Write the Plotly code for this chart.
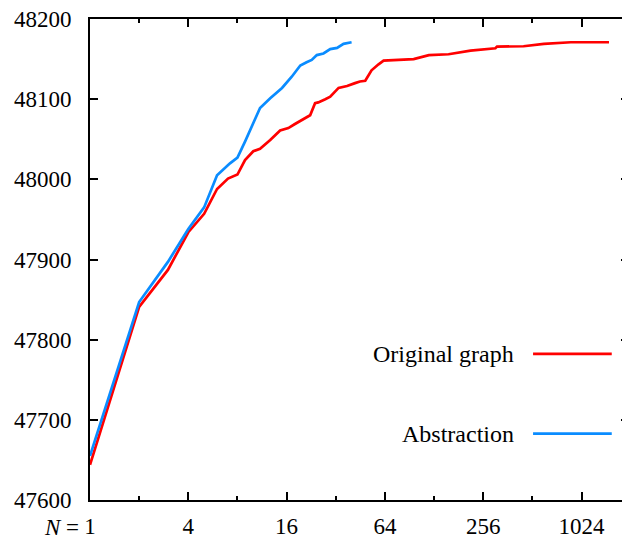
import plotly.graph_objects as go

# Original graph (red)
orig_n = [1, 2, 3, 4, 5, 6, 7, 8, 8.9, 10, 11, 12.7, 14.6, 16.4, 18, 20.3, 22.3, 23.9, 25,
          27.6, 29.6, 33.3, 37.5, 42, 45, 48.5, 53, 58.5, 62.8, 96, 119, 157, 214, 304,
          311, 452, 602, 880, 1508]
orig_v = [47644, 47841, 47887, 47934, 47957, 47988, 48001, 48006, 48024, 48035, 48038,
          48049, 48061, 48064, 48069, 48075, 48080, 48095, 48096, 48100, 48103, 48114,
          48116.5, 48120, 48122, 48123, 48136, 48143.5, 48148, 48150, 48155, 48156,
          48160.5, 48163.5, 48165.5, 48166, 48169, 48171, 48171]

# Abstraction (blue)
abs_n = [1, 2, 3, 4, 5, 6, 7.2, 8, 8.9, 10, 11, 12.7, 15, 17.2, 19.4, 21.2, 22.8, 24.5,
         26.9, 29.6, 32.6, 35.7, 40]
abs_v = [47655, 47847, 47897, 47938, 47965, 48005, 48020, 48027, 48047, 48070, 48089,
         48101, 48114, 48128, 48142, 48146, 48149, 48155, 48157, 48162.5, 48164, 48169,
         48171]

x_tickvals = [1, 4, 16, 64, 256, 1024]
x_ticktext = ["1", "4", "16", "64", "256", "1024"]
x_minor = [2, 8, 32, 128, 512]
y_tickvals = [47600, 47700, 47800, 47900, 48000, 48100, 48200]
y_ticktext = ["47600", "47700", "47800", "47900", "48000", "48100", "48200"]

RED = "#ff0000"
BLUE = "#0a8cff"
FONT = '"Liberation Serif", "DejaVu Serif", serif'

fig = go.Figure()
fig.add_trace(go.Scatter(x=orig_n, y=orig_v, mode="lines", name="Original graph",
                         line=dict(color=RED, width=2.7)))
fig.add_trace(go.Scatter(x=abs_n, y=abs_v, mode="lines", name="Abstraction",
                         line=dict(color=BLUE, width=2.7)))

# the page body has an 8px margin, so the figure is sized to the remaining window
fig.update_layout(
    width=622, height=531,
    margin=dict(l=82, r=1, t=11, b=39),
    paper_bgcolor="white", plot_bgcolor="white",
    showlegend=False,
    font=dict(family=FONT, size=23, color="black"),
)
fig.update_xaxes(
    type="log", range=[0, 3.30103], automargin=False,
    tickmode="array", tickvals=x_tickvals, ticktext=x_ticktext,
    tickfont=dict(family=FONT, size=23, color="black"),
    ticks="inside", ticklen=8, tickwidth=1.5, tickcolor="black",
    minor=dict(tickmode="array", tickvals=x_minor, ticks="inside", ticklen=4,
               tickwidth=1.5, tickcolor="black", showgrid=False),
    showline=True, linewidth=2, linecolor="black", mirror="ticks",
    showgrid=False, zeroline=False, ticklabelstandoff=4,
    ticklabeloverflow="allow",
)
fig.update_yaxes(
    range=[47600, 48200], automargin=False,
    tickmode="array", tickvals=y_tickvals, ticktext=y_ticktext,
    tickfont=dict(family=FONT, size=23, color="black"),
    ticks="inside", ticklen=8, tickwidth=1.5, tickcolor="black",
    showline=True, linewidth=2, linecolor="black", mirror="ticks",
    showgrid=False, zeroline=False, ticklabelstandoff=12,
    ticklabeloverflow="allow",
)

# "N =" prefix for the first x tick label
fig.add_annotation(text="<i>N</i> =", xref="paper", yref="paper", x=-0.016, y=0,
                   xanchor="right", yanchor="top", yshift=-13, showarrow=False,
                   font=dict(family=FONT, size=23, color="black"))

# gnuplot-style key: text left, sample line right
legend_items = [("Original graph", RED, 0.304), ("Abstraction", BLUE, 0.138)]
for label, color, ypos in legend_items:
    fig.add_annotation(text=label, xref="paper", yref="paper", x=0.79, y=ypos,
                       xanchor="right", yanchor="middle", showarrow=False,
                       font=dict(family=FONT, size=24, color="black"))
    fig.add_shape(type="line", xref="paper", yref="paper", x0=0.822, x1=0.968,
                  y0=ypos, y1=ypos, line=dict(color=color, width=2.7))

fig.write_html("out.html")
